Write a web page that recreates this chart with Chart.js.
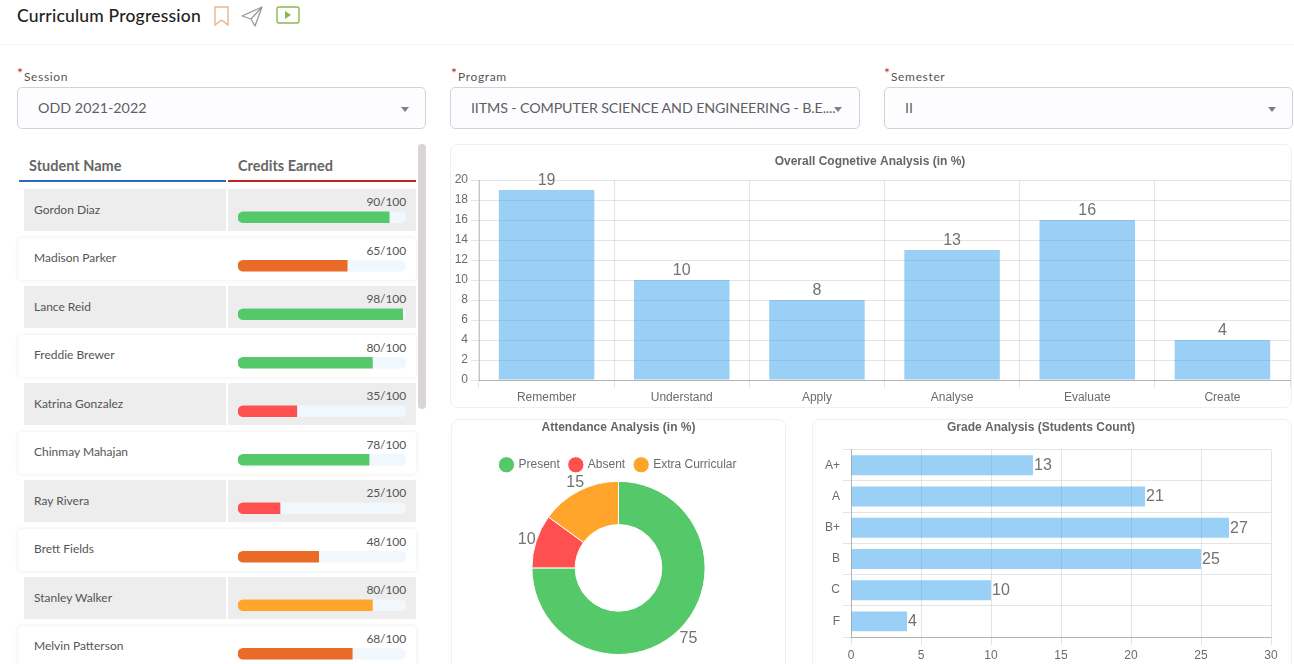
<!DOCTYPE html>
<html>
<head>
<meta charset="utf-8">
<title>Curriculum Progression</title>
<script src="https://cdn.jsdelivr.net/npm/chart.js@4.4.1/dist/chart.umd.min.js"></script>
<style>
    html, body { margin: 0; padding: 0; width: 1294px; height: 664px; overflow: hidden; background: #fff; }
    body { position: relative; font-family: Lato, "Open Sans", sans-serif; color: #555; }
    .abs, .field, .card, canvas, .row, .cell, .name, .score { position: absolute; }
    h1 { position: absolute; left: 17px; top: 5px; margin: 0; font-size: 17.5px; line-height: 22px; font-weight: 500; color: #222; letter-spacing: 0.2px; }
    .rule { left: 0; top: 44px; width: 1294px; height: 1px; background: #f4f4f4; }
    .label { font-size: 12px; line-height: 14px; color: #555; letter-spacing: 0.65px; }
    .label b { position: absolute; left: -7px; top: -4px; color: #c0203a; font-weight: 400; font-size: 14px; }
    .field { top: 87px; height: 40px; border: 1px solid #d4d4d8; border-radius: 5px; background: #fdfdff; box-sizing: content-box; font-size: 14.3px; line-height: 40px; color: #5f5f5f; white-space: nowrap; }
    .field span { position: absolute; left: 20px; }
    .field i { position: absolute; top: 19px; left: 383px; width: 0; height: 0; border-left: 4px solid transparent; border-right: 4px solid transparent; border-top: 5px solid #808080; }
    .head { top: 157px; font-size: 14.5px; line-height: 17px; font-weight: 700; color: #666; }
    .row { left: 18px; width: 398px; height: 42px; border-radius: 4px; }
    .row.even { background: #fff; box-shadow: 0 0 4px rgba(0,0,0,0.09); }
    .cell { top: 0; height: 42px; background: #ededed; }
    .name { left: 16px; top: 12.6px; font-size: 12px; line-height: 16px; color: #555; }
    .score { right: 10px; top: 6px; font-size: 12px; line-height: 14px; color: #555; letter-spacing: -0.1px; }
    .card { border: 1px solid #f0f0f0; border-radius: 8px; box-sizing: border-box; background: #fff; }
</style>
</head>
<body>
<h1>Curriculum Progression</h1>
<svg class="abs" style="left:213px;top:5px" width="90" height="22" viewBox="0 0 90 22" fill="none">
    <path d="M2 2h13v18l-6.5-5L2 20z" stroke="#e9b78f" stroke-width="1.4"/>
    <path d="M29 11L49 2l-7 19-4-7zM38 14L49 2" stroke="#999" stroke-width="1.3" stroke-linejoin="round"/>
    <rect x="64" y="2" width="22" height="16" rx="2" stroke="#8ab84f" stroke-width="1.4"/>
    <path d="M72 6l6 4-6 4z" fill="#8ab84f"/>
</svg>
<div class="abs rule"></div>

<div class="abs label" style="left:24px;top:70px"><b>*</b>Session</div>
<div class="abs label" style="left:458px;top:70px"><b>*</b>Program</div>
<div class="abs label" style="left:891px;top:70px"><b>*</b>Semester</div>
<div class="field" style="left:17px;width:407px"><span>ODD 2021-2022</span><i></i></div>
<div class="field" style="left:450px;width:408px"><span style="letter-spacing:-0.14px">IITMS - COMPUTER SCIENCE AND ENGINEERING - B.E....</span><i></i></div>
<div class="field" style="left:884px;width:407px"><span>II</span><i></i></div>

<div class="abs head" style="left:29px">Student Name</div>
<div class="abs head" style="left:238px">Credits Earned</div>
<div class="abs" style="left:19px;top:180px;width:207px;height:2px;background:#2b6cb8"></div>
<div class="abs" style="left:228px;top:180px;width:188px;height:2px;background:#c32222"></div>
<div id="rows"></div>
<canvas id="creditChart" width="168" height="485" style="left:238px;top:193px"></canvas>
<div class="abs" style="left:418px;top:144px;width:8px;height:265px;border-radius:4px;background:#d9d5d5"></div>

<div class="card" style="left:450px;top:144px;width:842px;height:264px"></div>
<div class="card" style="left:451px;top:419px;width:335px;height:260px"></div>
<div class="card" style="left:812px;top:419px;width:480px;height:260px"></div>
<canvas id="cognitiveChart" width="842" height="264" style="left:450px;top:144px"></canvas>
<canvas id="attendanceChart" width="337" height="245" style="left:450px;top:419px"></canvas>
<canvas id="gradeChart" width="471" height="245" style="left:811px;top:419px"></canvas>

<script>
// Student table
const students = ['Gordon Diaz', 'Madison Parker', 'Lance Reid', 'Freddie Brewer', 'Katrina Gonzalez',
    'Chinmay Mahajan', 'Ray Rivera', 'Brett Fields', 'Stanley Walker', 'Melvin Patterson'];
const credits = [90, 65, 98, 80, 35, 78, 25, 48, 80, 68];
const creditsMax = [100, 100, 100, 100, 100, 100, 100, 100, 100, 100];
const creditStatus = ['good', 'low', 'good', 'good', 'poor', 'good', 'poor', 'low', 'fair', 'low'];

// Overall cognitive analysis
const cognitiveLabels = ['Remember', 'Understand', 'Apply', 'Analyse', 'Evaluate', 'Create'];
const cognitiveValues = [19, 10, 8, 13, 16, 4];

// Attendance
const attendanceLabels = ['Present', 'Absent', 'Extra Curricular'];
const attendanceValues = [75, 10, 15];

// Grades
const gradeLabels = ['A+', 'A', 'B+', 'B', 'C', 'F'];
const gradeValues = [13, 21, 27, 25, 10, 4];

const statusColors = { good: '#55c96a', low: '#ea6a27', poor: '#ff5050', fair: '#ffa52c' };
const barColor = 'rgba(54, 162, 235, 0.5)';
const chartFont = '"Liberation Sans", Arial, sans-serif';
const gridColor = 'rgba(0, 0, 0, 0.1)';
const axisColor = 'rgba(0, 0, 0, 0.22)';

Chart.defaults.font.family = chartFont;
Chart.defaults.font.size = 12;
Chart.defaults.color = '#6b6b6b';
Chart.defaults.animation = false;
Chart.defaults.responsive = false;
Chart.defaults.devicePixelRatio = 1;

// table rows
const rowsEl = document.getElementById('rows');
students.forEach((name, i) => {
    const top = 189 + i * 48.5;
    const row = document.createElement('div');
    row.className = 'row' + (i % 2 ? ' even' : '');
    row.style.top = top + 'px';
    const bg = i % 2 ? 'transparent' : '#ededed';
    row.innerHTML = `<div class="cell" style="left:6px;width:202px;background:${bg}"></div>
        <div class="cell" style="left:210px;width:188px;background:${bg}"></div>
        <div class="name">${name}</div>
        <div class="score">${credits[i]}/${creditsMax[i]}</div>`;
    rowsEl.appendChild(row);
});

// writes the value next to each bar or slice
const valueLabels = {
    id: 'valueLabels',
    afterDatasetsDraw(chart) {
        const ctx = chart.ctx;
        const meta = chart.getDatasetMeta(0);
        const values = chart.data.datasets[0].data;
        ctx.save();
        ctx.font = '16px ' + chartFont;
        ctx.fillStyle = '#727272';
        ctx.textBaseline = 'middle';
        meta.data.forEach((el, i) => {
            if (chart.config.type === 'doughnut') {
                const mid = (el.startAngle + el.endAngle) / 2;
                const r = el.outerRadius + 11;
                ctx.textAlign = 'center';
                ctx.fillText(values[i], el.x + Math.cos(mid) * r + 1, el.y + Math.sin(mid) * r + 2);
            } else if (chart.options.indexAxis === 'y') {
                ctx.textAlign = 'left';
                ctx.fillText(values[i], el.x + 1, el.y + 0.5);
            } else {
                ctx.textAlign = 'center';
                ctx.fillText(values[i], el.x, el.y - 9.5);
            }
        });
        ctx.restore();
    }
};

const chartTitle = (text, top, bottom) => ({
    display: true,
    text: text,
    color: '#666',
    font: { size: 12, weight: 'bold' },
    padding: { top: top, bottom: bottom }
});

new Chart(document.getElementById('creditChart'), {
    type: 'bar',
    data: {
        labels: students,
        datasets: [
            {
                data: credits,
                backgroundColor: creditStatus.map(s => statusColors[s]),
                borderRadius: { topLeft: 6, bottomLeft: 6 },
                borderSkipped: false,
                order: 0
            },
            {
                data: creditsMax,
                backgroundColor: '#f0f7fd',
                borderRadius: 6,
                borderSkipped: false,
                order: 1
            }
        ]
    },
    options: {
        indexAxis: 'y',
        grouped: false,
        barThickness: 11,
        layout: { padding: 0 },
        plugins: { legend: { display: false }, tooltip: { enabled: false } },
        scales: {
            x: { display: false, min: 0, max: 100 },
            y: { display: false }
        }
    }
});

new Chart(document.getElementById('cognitiveChart'), {
    type: 'bar',
    data: {
        labels: cognitiveLabels,
        datasets: [{ data: cognitiveValues, backgroundColor: barColor, barPercentage: 0.785, categoryPercentage: 0.9 }]
    },
    options: {
        layout: { padding: { right: 2 } },
        plugins: { legend: { display: false }, title: chartTitle('Overall Cognetive Analysis (in %)', 10, 11.6) },
        scales: {
            x: {
                grid: { color: gridColor },
                border: { color: axisColor },
                ticks: { maxRotation: 0, padding: 2 },
                afterFit(scale) { scale.height = 28; }
            },
            y: {
                min: 0,
                max: 20,
                ticks: { stepSize: 2 },
                grid: { color: gridColor },
                border: { color: axisColor },
                afterFit(scale) { scale.width = 29; }
            }
        }
    },
    plugins: [valueLabels]
});

new Chart(document.getElementById('attendanceChart'), {
    type: 'doughnut',
    data: {
        labels: attendanceLabels,
        datasets: [{
            data: attendanceValues,
            backgroundColor: [statusColors.good, statusColors.poor, statusColors.fair],
            borderColor: '#fff',
            borderWidth: 1
        }]
    },
    options: {
        cutout: '50%',
        layout: { padding: { bottom: 9 } },
        plugins: {
            title: chartTitle('Attendance Analysis (in %)', 1, 14.4),
            legend: {
                position: 'top',
                labels: { usePointStyle: true, pointStyle: 'circle', boxHeight: 11.5, padding: 10 }
            }
        }
    },
    plugins: [valueLabels]
});

new Chart(document.getElementById('gradeChart'), {
    type: 'bar',
    data: {
        labels: gradeLabels,
        datasets: [{ data: gradeValues, backgroundColor: barColor, barPercentage: 0.71, categoryPercentage: 0.9 }]
    },
    options: {
        indexAxis: 'y',
        layout: { padding: { right: 11 } },
        plugins: { legend: { display: false }, title: chartTitle('Grade Analysis (Students Count)', 1, 15.2) },
        scales: {
            x: {
                min: 0,
                max: 30,
                ticks: { stepSize: 5, maxRotation: 0 },
                grid: { color: gridColor },
                border: { color: axisColor },
                afterFit(scale) { scale.height = 27; }
            },
            y: {
                grid: { color: gridColor },
                border: { color: axisColor },
                afterFit(scale) { scale.width = 40; }
            }
        }
    },
    plugins: [valueLabels]
});
</script>
</body>
</html>
